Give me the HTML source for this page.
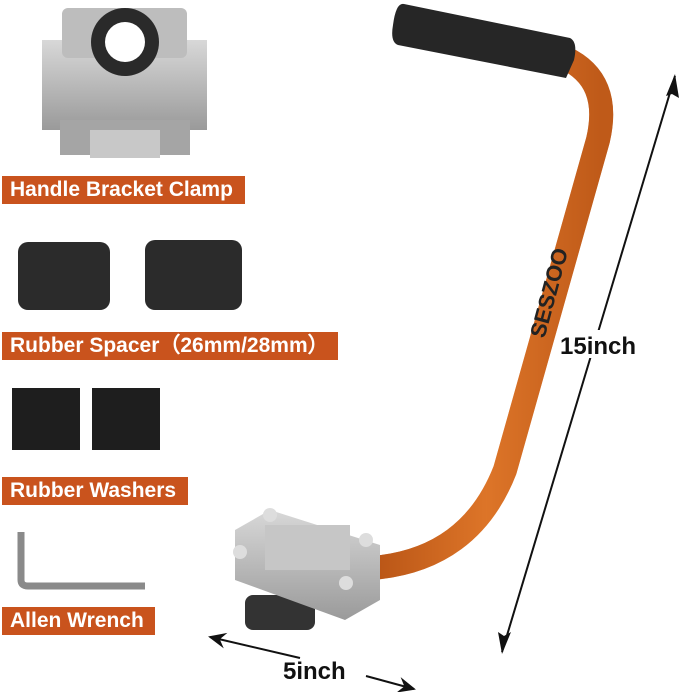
<!DOCTYPE html>
<html><head><style>
html,body{margin:0;padding:0;background:#fff;width:679px;height:692px;overflow:hidden}
.lb{position:absolute;left:2px;height:28px;background:#c9531d;color:#fff;font:bold 21px "Liberation Sans",sans-serif;line-height:28px;padding-left:8px;box-sizing:border-box;white-space:nowrap;overflow:hidden}
.t{position:absolute;font:bold 24px "Liberation Sans",sans-serif;color:#111}
</style></head><body>
<svg width="679" height="692" style="position:absolute;left:0;top:0">
<defs>
<linearGradient id="og" x1="0" y1="0" x2="1" y2="0"><stop offset="0" stop-color="#a84a10"/><stop offset=".5" stop-color="#f08a35"/><stop offset="1" stop-color="#b45416"/></linearGradient>
<linearGradient id="gr" x1="0" y1="0" x2="0" y2="1"><stop offset="0" stop-color="#d8d8d8"/><stop offset="1" stop-color="#9a9a9a"/></linearGradient>
<marker id="ah" markerWidth="10" markerHeight="10" refX="8" refY="4" orient="auto"><path d="M0,0 L9,4 L0,8 L3,4z" fill="#111"/></marker>
</defs>
<rect x="42" y="40" width="165" height="90" fill="url(#gr)"/>
<rect x="62" y="8" width="125" height="50" rx="6" fill="#bdbdbd"/>
<circle cx="125" cy="42" r="34" fill="#2a2a2a"/><circle cx="125" cy="42" r="20" fill="#fff"/>
<rect x="60" y="120" width="130" height="35" fill="#a5a5a5"/>
<rect x="90" y="130" width="70" height="28" fill="#c8c8c8"/>
<rect x="18" y="242" width="92" height="68" rx="10" fill="#2b2b2b"/>
<rect x="145" y="240" width="97" height="70" rx="10" fill="#2b2b2b"/>
<rect x="12" y="388" width="68" height="62" fill="#1e1e1e"/>
<rect x="92" y="388" width="68" height="62" fill="#1e1e1e"/>
<path d="M21,532 L21,580 Q21,586 28,586 L145,586" stroke="#8a8a8a" stroke-width="7" fill="none"/>
<path d="M372,568 Q470,560 505,470 L598,140 Q612,80 565,58" stroke="url(#og)" stroke-width="24" fill="none" stroke-linecap="round"/>
<path d="M372,568 Q470,560 505,470 L598,140 Q612,80 565,58" stroke="#c9601c" stroke-width="24" fill="none" opacity=".5"/>
<g transform="translate(560,250) rotate(-75)" font-family="Liberation Sans,sans-serif" font-weight="bold" font-size="22" fill="#222"><text x="-90" y="8">SESZOO</text></g>
<path d="M404,4 L570,38 Q578,42 574,60 L566,78 L398,45 Q390,42 393,25 Q396,2 404,4z" fill="#262626"/>
<rect x="245" y="595" width="70" height="35" rx="8" fill="#333"/>
<path d="M235,530 L270,510 L380,545 L380,600 L345,620 L235,580z" fill="url(#gr)"/>
<rect x="265" y="525" width="85" height="45" fill="#c6c6c6"/>
<circle cx="270" cy="515" r="7" fill="#ddd"/><circle cx="240" cy="552" r="7" fill="#ddd"/><circle cx="366" cy="540" r="7" fill="#ddd"/><circle cx="346" cy="583" r="7" fill="#ddd"/>
<line x1="502" y1="652" x2="675" y2="76" stroke="#111" stroke-width="2"/>
<path d="M675,74 L666,96 L672,94 L679,98z" fill="#111"/>
<path d="M502,654 L498,632 L504,636 L511,632z" fill="#111"/>
<line x1="300" y1="658" x2="210" y2="637" stroke="#111" stroke-width="2" marker-end="url(#ah)"/>
<line x1="366" y1="676" x2="414" y2="689" stroke="#111" stroke-width="2" marker-end="url(#ah)"/>
<rect x="557" y="330" width="92" height="28" fill="#fff"/>
</svg>
<div class="lb" style="top:176px;width:243px">Handle Bracket Clamp</div>
<div class="lb" style="top:332px;width:336px">Rubber Spacer（26mm/28mm）</div>
<div class="lb" style="top:477px;width:186px">Rubber Washers</div>
<div class="lb" style="top:607px;width:153px">Allen Wrench</div>
<div class="t" style="left:560px;top:333px">15inch</div>
<div class="t" style="left:283px;top:658px">5inch</div>
</body></html>
